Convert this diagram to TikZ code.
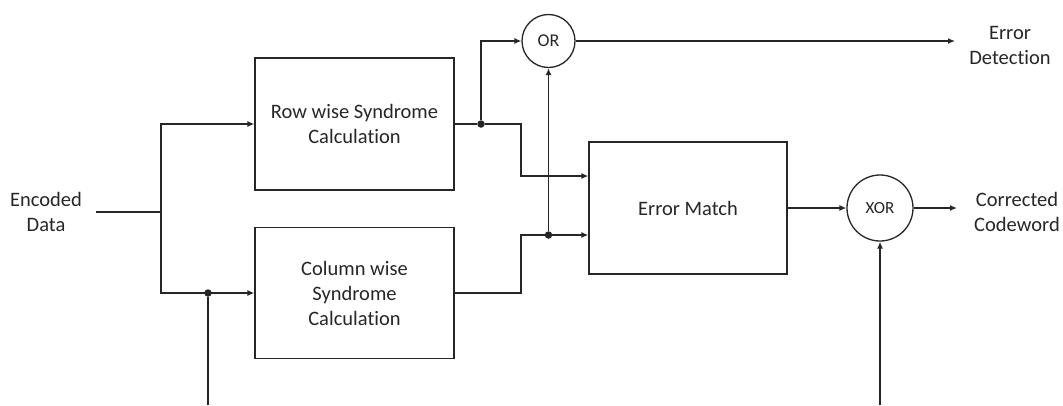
\documentclass[tikz,border=0pt]{standalone}
\usepackage{fontspec}
\setmainfont{Carlito}[Ligatures={NoCommon}]
\usetikzlibrary{arrows.meta}
\begin{document}
\begin{tikzpicture}[x=1pt,y=-1pt,line width=1.3pt,draw=black!85,
  blk/.style={draw,minimum width=199pt,minimum height=132pt,align=center,inner sep=0pt,
    font=\fontsize{20.5}{25}\selectfont,text=black!85},
  gate/.style={draw,circle,minimum size=53pt,inner sep=0pt,
    font=\fontsize{18}{20}\selectfont,text=black!85},
  lbl/.style={align=center,font=\fontsize{20.5}{25}\selectfont,text=black!85},
  arr/.style={-{Latex[length=7pt,width=6pt]}},
  jdot/.style={circle,fill=black!85,draw=none,inner sep=0pt,minimum size=7.5pt}]
\useasboundingbox (0,0) rectangle (1063,405);

% blocks and gates
\node[blk] (row) at (354.5,124) {Row wise Syndrome\\Calculation};
\node[blk,minimum height=131pt] (col) at (354.5,293) {Column wise\\Syndrome\\Calculation};
\node[blk,minimum width=198pt] (em) at (688,208) {Error Match};
\node[gate] (or) at (548.5,41) {OR};
\node[gate,minimum size=66pt,font=\fontsize{17}{19}\selectfont] (xor) at (880,208) {XOR};

% terminal labels
\node[lbl] (in) at (46,212) {Encoded\\Data};
\node[lbl] (ed) at (1010,45) {Error\\Detection};
\node[lbl] (cc) at (1017,212) {Corrected\\Codeword};

% helper points
\coordinate (inL) at (96,212);
\coordinate (split) at (161,212);
\coordinate (bot1) at (208,405);
\coordinate (bot2) at (880,405);
\coordinate (k1) at (521,124);
\coordinate (k2) at (521,235);
\coordinate (emIn1) at (em.west |- 0,176);
\coordinate (emIn2) at (em.west |- 0,235);
\coordinate (edIn) at (955,41);
\coordinate (ccIn) at (957,208);

% junction dots
\node[jdot] (d1) at (208,293) {};
\node[jdot] (d2) at (481,124) {};
\node[jdot] (d3) at (548.5,235) {};

% input fan-out
\draw (inL) -- (split);
\draw[arr] (split) |- (row.west);
\draw[arr] (split) |- (col.west);
\draw (bot1) -- (d1);

% row syndrome path
\draw (row.east) -- (d2);
\draw[arr] (d2) -- (k1) |- (emIn1);
\draw[arr] (d2) |- (or.west);

% column syndrome path
\draw[arr] (col.east) -| (k2) -- (emIn2);
\draw[arr] (d3) -- (or.south);

% outputs
\draw[arr] (or.east) -- (edIn);
\draw[arr] (em.east) -- (xor.west);
\draw[arr] (xor.east) -- (ccIn);
\draw[arr] (bot2) -- (xor.south);
\end{tikzpicture}
\end{document}
